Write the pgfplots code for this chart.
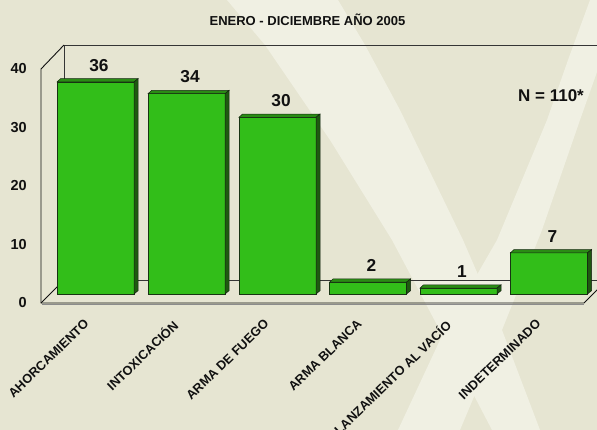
\documentclass[border=0pt]{standalone}
\usepackage{pgfplots}
\pgfplotsset{compat=1.18}
\usepackage{fontspec}
\setmainfont{Liberation Sans}
\definecolor{bgbase}{HTML}{E6E5D2}
\definecolor{bglight}{HTML}{F0F0E3}
\definecolor{barfront}{HTML}{32BE19}
\definecolor{bartop}{HTML}{2A8C14}
\definecolor{barside}{HTML}{1E5A10}
\definecolor{ink}{HTML}{111111}
\pgfplotsset{
  pixelaxis/.style={
    at={(0pt,0pt)}, anchor=south west,
    width=597pt, height=430pt, scale only axis,
    xmin=0, xmax=597, clip=true,
    axis lines=none, ticks=none,
  },
}
\pgfplotstableread{
x value
95.5 36
186.5 34
277.5 30
368 2
458.5 1
549 7
}\bardata
\begin{document}
\begin{tikzpicture}
\path[use as bounding box] (0pt,0pt) rectangle (597pt,430pt);
\clip (0pt,0pt) rectangle (597pt,430pt);
% background and frame, in picture pixels
\begin{axis}[pixelaxis, ymin=0, ymax=430, y dir=reverse]
\addplot[fill=bgbase, draw=none] coordinates {(0,0)(597,0)(597,430)(0,430)} --cycle;
\addplot[fill=bglight, draw=none] coordinates {
 (227,0)(265,45)(330,140)(392,240)(445,340)(492,430)(540,430)(502,330)(463,240)(400,110)(365,45)(338,0)} --cycle;
\addplot[fill=bglight, draw=none] coordinates {
 (590,0)(568,60)(547,120)(497,240)(478,273)(440,340)(398,430)(460,430)(502,330)(542,230)(580,120)(597,72)(597,0)} --cycle;
\addplot[draw=ink!85, line width=0.9pt] coordinates {(597,45)(64,45)(64,280)(597,280)};
\addplot[draw=ink, line width=0.9pt] coordinates {(64,45)(41,69)};
\addplot[draw=ink, line width=0.9pt] coordinates {(64,280)(41,303)};
\addplot[draw=ink, line width=0.9pt] coordinates {(41,69)(41,303)(584,303)(607,280)};
\addplot[draw=black!45, line width=0.6pt] coordinates {(42,304.2)(584,304.2)};
\end{axis}
% value axis with the category labels, on the front of the frame
\begin{axis}[
  at={(41pt,127pt)}, anchor=south west,
  width=556pt, height=234pt, scale only axis,
  xmin=41, xmax=597, ymin=0, ymax=40,
  axis line style={draw=none}, tick style={draw=none},
  ytick={0,10,20,30,40},
  xtick={95,183,275,368,456,547},
  xticklabels={AHORCAMIENTO,INTOXICACIÓN,ARMA DE FUEGO,ARMA BLANCA,LANZAMIENTO AL VACÍO,INDETERMINADO},
  x tick label style={font=\bfseries\fontsize{12.8}{15}\selectfont, rotate=44, anchor=north east, inner sep=0pt, xshift=-19pt, yshift=-2.9pt, text=ink},
  y tick label style={font=\bfseries\fontsize{14.5}{16}\selectfont, text=ink, inner sep=0pt, xshift=-14pt},
  /pgf/number format/assume math mode=true,
  clip=false,
]
\end{axis}
% bars: x in picture pixels, y in values (0 at pixel row 294)
\begin{axis}[pixelaxis, ymin=-23.09, ymax=49.915]
\addplot[ybar, bar width=77pt, bar shift=0pt, fill=barfront, draw=ink!80!barfront, line width=0.7pt,
  nodes near coords, nodes near coords style={font=\bfseries\fontsize{17.3}{19}\selectfont, text=ink, yshift=7pt, xshift=3.5pt},
  point meta=explicit symbolic] table[x=x, y=value, meta=value] {\bardata};
% tops and sides, depth 4 px across and 0.55 units up
\addplot[fill=bartop, draw=ink!80!bartop, line width=0.5pt] coordinates {(57,36)(60.5,36.55)(138,36.55)(134,36)} --cycle;
\addplot[fill=barside, draw=ink!80!barside, line width=0.5pt] coordinates {(134,0)(138,0.55)(138,36.55)(134,36)} --cycle;
\addplot[fill=bartop, draw=ink!80!bartop, line width=0.5pt] coordinates {(148,34)(151.5,34.55)(229,34.55)(225,34)} --cycle;
\addplot[fill=barside, draw=ink!80!barside, line width=0.5pt] coordinates {(225,0)(229,0.55)(229,34.55)(225,34)} --cycle;
\addplot[fill=bartop, draw=ink!80!bartop, line width=0.5pt] coordinates {(239,30)(242.5,30.55)(320,30.55)(316,30)} --cycle;
\addplot[fill=barside, draw=ink!80!barside, line width=0.5pt] coordinates {(316,0)(320,0.55)(320,30.55)(316,30)} --cycle;
\addplot[fill=bartop, draw=ink!80!bartop, line width=0.5pt] coordinates {(329.5,2)(333,2.55)(410.5,2.55)(406.5,2)} --cycle;
\addplot[fill=barside, draw=ink!80!barside, line width=0.5pt] coordinates {(406.5,0)(410.5,0.55)(410.5,2.55)(406.5,2)} --cycle;
\addplot[fill=bartop, draw=ink!80!bartop, line width=0.5pt] coordinates {(420,1)(423.5,1.55)(501,1.55)(497,1)} --cycle;
\addplot[fill=barside, draw=ink!80!barside, line width=0.5pt] coordinates {(497,0)(501,0.55)(501,1.55)(497,1)} --cycle;
\addplot[fill=bartop, draw=ink!80!bartop, line width=0.5pt] coordinates {(510.5,7)(514,7.55)(591.5,7.55)(587.5,7)} --cycle;
\addplot[fill=barside, draw=ink!80!barside, line width=0.5pt] coordinates {(587.5,0)(591.5,0.55)(591.5,7.55)(587.5,7)} --cycle;
\end{axis}
% title and note
\node[font=\bfseries\fontsize{13}{15}\selectfont, text=ink] at (307.5pt,410.5pt) {ENERO - DICIEMBRE AÑO 2005};
\node[font=\bfseries\fontsize{17}{19}\selectfont, text=ink] at (551pt,334.5pt) {N = 110*};
\end{tikzpicture}
\end{document}
